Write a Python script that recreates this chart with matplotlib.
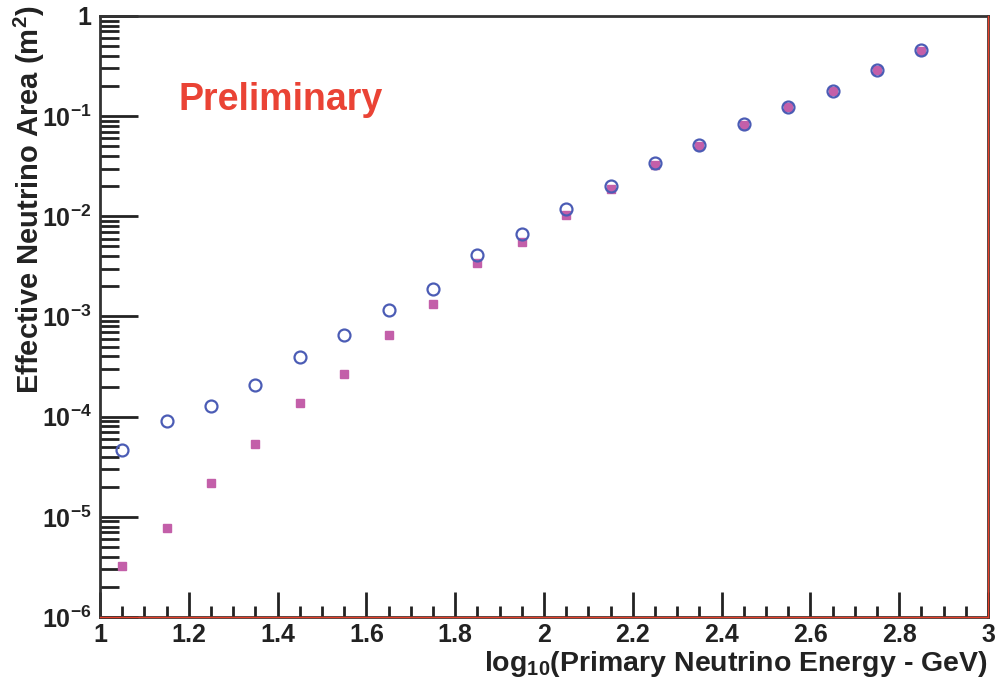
import numpy as np
import matplotlib.pyplot as plt
from matplotlib.ticker import MultipleLocator, FuncFormatter, LogLocator, NullFormatter

plt.rcParams['font.family'] = ['Liberation Sans', 'DejaVu Sans']
plt.rcParams['font.weight'] = 'bold'
plt.rcParams['axes.labelweight'] = 'bold'
plt.rcParams['mathtext.fontset'] = 'custom'
plt.rcParams['mathtext.rm'] = 'Liberation Sans:bold'
plt.rcParams['mathtext.it'] = 'Liberation Sans:bold'
plt.rcParams['mathtext.bf'] = 'Liberation Sans:bold'

# log10(E / GeV) bin centres
log_energy = [1.05, 1.15, 1.25, 1.35, 1.45, 1.55, 1.65, 1.75, 1.85, 1.95,
              2.05, 2.15, 2.25, 2.35, 2.45, 2.55, 2.65, 2.75, 2.85]
# open circles
area_circle = [4.6e-5, 9.1e-5, 1.28e-4, 2.08e-4, 3.9e-4, 6.6e-4, 1.17e-3, 1.87e-3,
               4.1e-3, 6.6e-3, 1.18e-2, 2.0e-2, 3.4e-2, 5.1e-2, 8.3e-2, 0.124,
               0.18, 0.289, 0.455]
# filled squares
area_square = [3.2e-6, 7.8e-6, 2.19e-5, 5.3e-5, 1.38e-4, 2.67e-4, 6.6e-4, 1.33e-3,
               3.4e-3, 5.5e-3, 1.02e-2, 1.88e-2, 3.26e-2, 5.0e-2, 8.2e-2, 0.123,
               0.18, 0.288, 0.45]

fig = plt.figure(figsize=(9.99, 6.86), dpi=100)
ax = fig.add_axes([0.1001, 0.1006, 0.8889, 0.8761])

ax.plot(log_energy, area_square, ls='none', marker='s', ms=5.8,
        color='#c35fa9', mec='#c35fa9', zorder=3)
ax.plot(log_energy, area_circle, ls='none', marker='o', ms=8.6, mew=1.6,
        mfc='none', mec='#4b5cb5', zorder=4)

ax.set_yscale('log')
ax.set_xlim(1, 3)
ax.set_ylim(1e-6, 1)

ax.xaxis.set_major_locator(MultipleLocator(0.2))
ax.xaxis.set_minor_locator(MultipleLocator(0.05))
ax.xaxis.set_major_formatter(FuncFormatter(lambda v, p: f'{v:g}'))

ax.yaxis.set_major_locator(LogLocator(base=10, numticks=10))
ax.yaxis.set_minor_locator(LogLocator(base=10, subs=np.arange(2, 10), numticks=20))
ax.yaxis.set_minor_formatter(NullFormatter())

def ylab(v, p):
    e = int(round(np.log10(v)))
    if e == 0:
        return '1'
    return r'$10^{%d}$' % e
ax.yaxis.set_major_formatter(FuncFormatter(ylab))

ax.tick_params(axis='both', which='both', direction='in', width=2, colors='#222222',
               labelsize=18, labelcolor='#222222')
ax.tick_params(axis='x', which='major', length=18, pad=4)
ax.tick_params(axis='x', which='minor', length=8)
ax.tick_params(axis='y', which='major', length=27, pad=6)
ax.tick_params(axis='y', which='minor', length=14)

for s in ax.spines.values():
    s.set_linewidth(2)
    s.set_color('#333333')

# thin red frame lines (bottom and right)
ax.plot([0, 1], [0, 0], transform=ax.transAxes, color='#e8402a', lw=1, clip_on=False, zorder=5)
ax.plot([1, 1], [0, 1], transform=ax.transAxes, color='#e8402a', lw=1, clip_on=False, zorder=5)

ax.set_xlabel(r'log$_{10}$(Primary Neutrino Energy - GeV)', fontsize=20.5,
              color='#222222', loc='right')
ax.xaxis.set_label_coords(1.0, -0.054)
ax.set_ylabel(r'Effective Neutrino Area (m$^{2}$)', fontsize=21,
              color='#222222', loc='top')
ax.yaxis.set_label_coords(-0.06, 1.018)

ax.text(0.088, 0.86, 'Preliminary', transform=ax.transAxes, color='#ea4335',
        fontsize=27, fontweight='bold', va='center', ha='left')

fig.savefig('out.png', dpi=100)
